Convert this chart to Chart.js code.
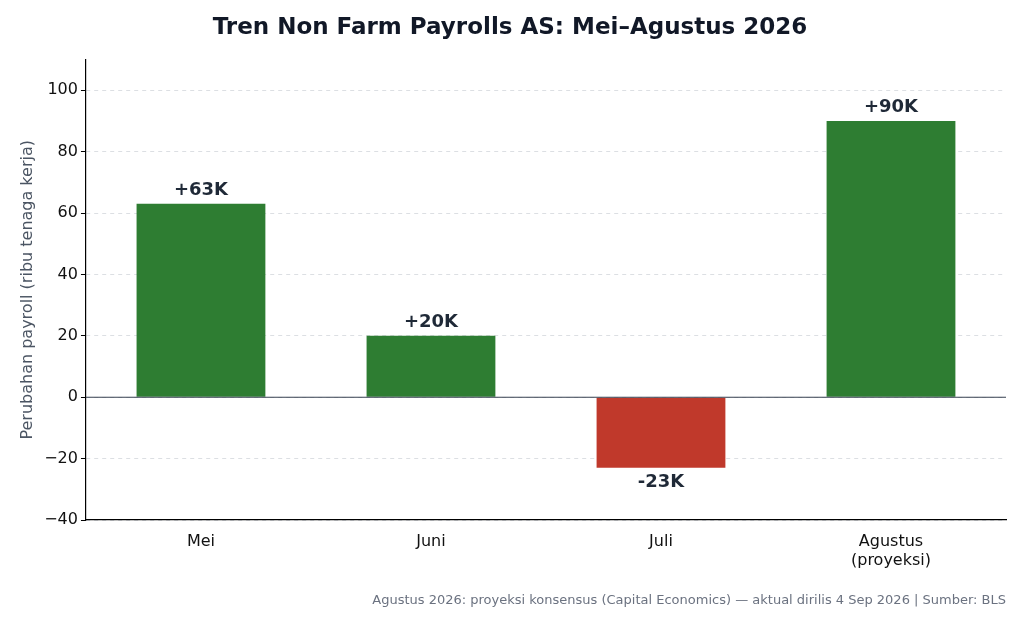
<!DOCTYPE html>
<html lang="id">
<head>
<meta charset="UTF-8">
<title>Tren Non Farm Payrolls AS</title>
<style>
  body { margin: 0; background: #fff; }
  #wrap { width: 1024px; height: 626px; }
</style>
</head>
<body>
<div id="wrap"><canvas id="myChart"></canvas></div>
<script src="https://cdn.jsdelivr.net/npm/chart.js"></script>
<script>
var bulan = ['Mei', 'Juni', 'Juli', ['Agustus', '(proyeksi)']];
var perubahan = [63, 20, -23, 90];
var labelNilai = ['+63K', '+20K', '-23K', '+90K'];
var tickY = [-40, -20, 0, 20, 40, 60, 80, 100];

var warnaBar = perubahan.map(function (v) { return v < 0 ? '#c0392b' : '#2e7d32'; });

var labelPlugin = {
    id: 'labelNilai',
    afterDatasetsDraw: function (chart) {
        var ctx = chart.ctx;
        var meta = chart.getDatasetMeta(0);
        ctx.save();
        ctx.font = 'bold 18px "DejaVu Sans"';
        ctx.fillStyle = '#1f2937';
        ctx.textAlign = 'center';
        meta.data.forEach(function (bar, i) {
            if (perubahan[i] < 0) {
                ctx.textBaseline = 'top';
                ctx.fillText(labelNilai[i], bar.x, bar.y + 6);
            } else {
                ctx.textBaseline = 'bottom';
                ctx.fillText(labelNilai[i], bar.x, bar.y - 5);
            }
        });
        ctx.restore();
    }
};

var garisNol = {
    id: 'garisNol',
    afterDatasetsDraw: function (chart) {
        var ctx = chart.ctx;
        var y = chart.scales.y.getPixelForValue(0);
        ctx.save();
        ctx.strokeStyle = '#374151';
        ctx.lineWidth = 1.2;
        ctx.beginPath();
        ctx.moveTo(chart.chartArea.left, y);
        ctx.lineTo(chart.chartArea.right, y);
        ctx.stroke();
        ctx.restore();
    }
};

new Chart(document.getElementById('myChart').getContext('2d'), {
    type: 'bar',
    data: {
        labels: bulan,
        datasets: [{
            data: perubahan,
            backgroundColor: warnaBar,
            barPercentage: 0.56,
            categoryPercentage: 1.0
        }]
    },
    options: {
        responsive: true,
        maintainAspectRatio: false,
        animation: false,
        layout: { padding: { left: 14, right: 18, top: 6, bottom: 18 } },
        scales: {
            x: {
                grid: { display: false },
                border: { color: '#000', width: 1.2 },
                ticks: { color: '#111', font: { family: 'DejaVu Sans', size: 16 }, padding: 4 }
            },
            y: {
                min: -40,
                max: 110,
                afterBuildTicks: function (axis) {
                    axis.ticks = tickY.map(function (v) { return { value: v }; });
                },
                grid: { color: '#dcdfe3', drawTicks: true, tickColor: '#000', tickLength: 5 },
                border: { color: '#000', width: 1.2, dash: [4, 4] },
                ticks: {
                    color: '#111',
                    font: { family: 'DejaVu Sans', size: 16 },
                    callback: function (v) { return v < 0 ? '\u2212' + Math.abs(v) : v; }
                },
                title: {
                    display: true,
                    text: 'Perubahan payroll (ribu tenaga kerja)',
                    color: '#4b5563',
                    font: { family: 'DejaVu Sans', size: 16 }
                }
            }
        },
        plugins: {
            legend: { display: false },
            tooltip: { enabled: false },
            title: {
                display: true,
                text: 'Tren Non Farm Payrolls AS: Mei\u2013Agustus 2026',
                color: '#111827',
                font: { family: 'DejaVu Sans', size: 23, weight: 'bold' },
                padding: { top: 8, bottom: 18 }
            },
            subtitle: {
                display: true,
                position: 'bottom',
                align: 'end',
                text: 'Agustus 2026: proyeksi konsensus (Capital Economics) \u2014 aktual dirilis 4 Sep 2026 | Sumber: BLS',
                color: '#6b7280',
                font: { family: 'DejaVu Sans', size: 13 },
                padding: { top: 18, bottom: 0, right: 9 }
            }
        }
    },
    plugins: [labelPlugin, garisNol]
});
</script>
</body>
</html>
